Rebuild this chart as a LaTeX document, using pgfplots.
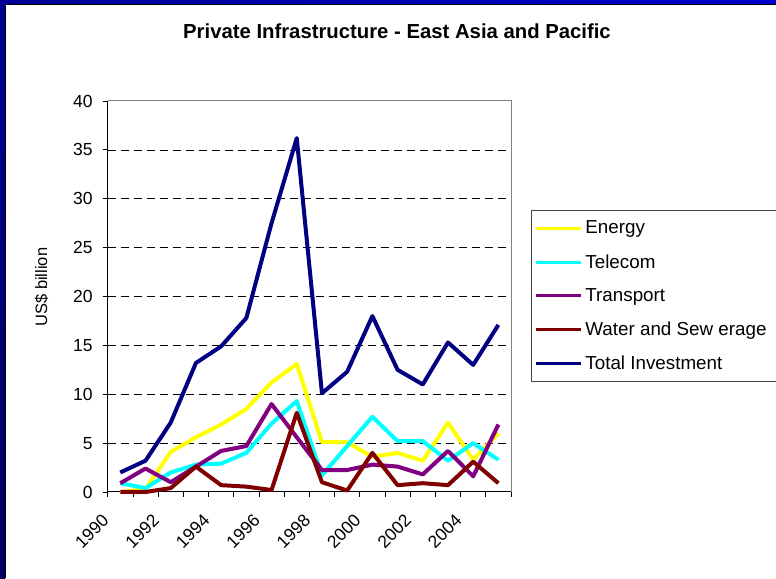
\documentclass[border=0pt]{standalone}
\usepackage{fontspec}
\setmainfont{Liberation Sans}
\usepackage{pgfplots}
\usepackage{pgfplotstable}
\pgfplotsset{compat=1.18}
\definecolor{cEnergy}{HTML}{FFFF00}
\definecolor{cTelecom}{HTML}{00FFFF}
\definecolor{cTransport}{HTML}{800080}
\definecolor{cWater}{HTML}{800000}
\definecolor{cTotal}{HTML}{000080}
\pgfplotstableread{
year energy telecom transport water total
1990 0.0 0.9 0.9 0.0 2.0
1991 0.3 0.4 2.4 0.0 3.2
1992 4.1 2.0 1.0 0.4 7.1
1993 5.6 2.8 2.6 2.6 13.2
1994 6.9 2.9 4.2 0.7 14.9
1995 8.5 4.0 4.7 0.55 17.8
1996 11.2 7.0 9.0 0.2 27.5
1997 13.1 9.3 5.6 8.1 36.2
1998 5.1 1.7 2.25 1.0 10.1
1999 5.1 4.7 2.25 0.15 12.3
2000 3.6 7.7 2.8 4.0 18.0
2001 4.0 5.2 2.6 0.7 12.5
2002 3.2 5.2 1.8 0.9 11.0
2003 7.1 3.2 4.2 0.7 15.3
2004 3.3 5.0 1.6 3.1 13.0
2005 6.0 3.3 6.9 0.9 17.1
}\datatable
\begin{document}
\begin{tikzpicture}[x=1pt,y=1pt]
\useasboundingbox (0,0) rectangle (776,578);
\fill[white] (0,0) rectangle (776,578);
\shade[left color={rgb,255:red,0;green,0;blue,150}, right color={rgb,255:red,0;green,0;blue,205}] (0,574) rectangle (776,578);
\shade[top color={rgb,255:red,0;green,0;blue,150}, bottom color={rgb,255:red,0;green,0;blue,95}] (0,0) rectangle (5,578);
\fill[black] (5,573) rectangle (776,574);
\fill[black] (5,0) rectangle (6,574);
\node[font=\bfseries\fontsize{20.3}{24}\selectfont, anchor=base] at (397,539.7) {Private Infrastructure - East Asia and Pacific};
\begin{axis}[
  at={(107.7pt,86pt)}, anchor=south west,
  scale only axis, width=403.3pt, height=391pt,
  xmin=1989.5, xmax=2005.5, ymin=0, ymax=40,
  clip=false,
  axis lines=left,
  axis line style={black, line width=1pt, -},
  tick align=outside,
  major tick length=5pt,
  tick style={black, line width=0.8pt},
  xtick={1989.5,1990.5,...,2005.5},
  xticklabels={},
  extra x ticks={1990,1992,1994,1996,1998,2000,2002,2004},
  extra x tick labels={1990,1992,1994,1996,1998,2000,2002,2004},
  extra x tick style={major tick length=0pt,
    tick label style={xshift=-14.6pt, yshift=-25.5pt, rotate=45, anchor=east, inner sep=0pt}},
  ytick={0,5,...,40},
  extra y ticks={5,10,...,35},
  extra y tick labels={},
  extra y tick style={major tick length=0pt, grid=major},
  yticklabel style={anchor=east, inner sep=0pt, xshift=-10pt},
  ticklabel style={font=\fontsize{17.5}{20}\selectfont},
  /pgf/number format/assume math mode=true,
  grid style={black, line width=0.7pt, dash pattern=on 8pt off 5pt},
  ylabel={US\$ billion},
  every axis y label/.style={at={(axis description cs:-0.1637,0.524)}, rotate=90, anchor=center, font=\fontsize{16.5}{19}\selectfont},
  every axis plot/.append style={line width=4pt, line join=round},
  legend image code/.code={\draw[#1, line width=3pt] (0pt,0pt) -- (45pt,0pt);},
  legend cell align=left,
  legend style={at={(axis description cs:1.0496,0.7212)}, anchor=north west,
    draw={rgb,255:red,70;green,70;blue,70}, line width=0.8pt,
    inner xsep=3pt, inner ysep=1pt, row sep=0pt,
    font=\fontsize{18.8}{21}\selectfont,
    nodes={inner xsep=3pt, inner ysep=0pt, minimum height=33.75pt}},
]
\addplot[cEnergy] table[x=year, y=energy] {\datatable};
\addlegendentry{Energy}
\addplot[cTelecom] table[x=year, y=telecom] {\datatable};
\addlegendentry{Telecom}
\addplot[cTransport] table[x=year, y=transport] {\datatable};
\addlegendentry{Transport}
\addplot[cWater] table[x=year, y=water] {\datatable};
\addlegendentry{Water and Sew erage\mbox{}\hspace*{32pt}\mbox{}}
\addplot[cTotal] table[x=year, y=total] {\datatable};
\addlegendentry{Total Investment}
\draw[gray, line width=1pt] (rel axis cs:0,1) -- (rel axis cs:1,1) -- (rel axis cs:1,0);
\end{axis}
\end{tikzpicture}
\end{document}
